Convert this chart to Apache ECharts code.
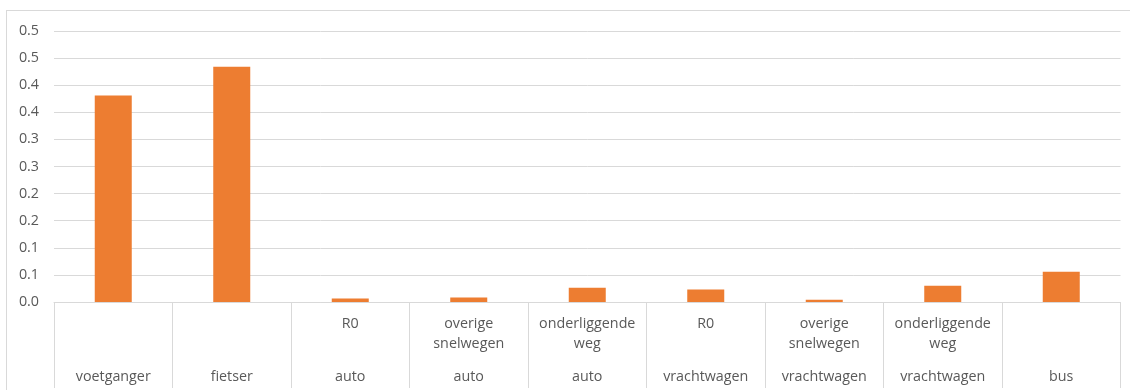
<!DOCTYPE html>
<html>
<head>
<meta charset="utf-8">
<script src="https://cdn.jsdelivr.net/npm/echarts@6/dist/echarts.min.js"></script>
<style>
html, body { margin: 0; padding: 0; background: #fff; overflow: hidden; }
#chart { position: absolute; left: 0; top: 0; width: 1130px; height: 390px; }
#frame { position: absolute; left: 6px; top: 10px; width: 1200px; height: 500px; border-left: 1px solid #d9d9d9; border-top: 1px solid #d9d9d9; pointer-events: none; }
</style>
</head>
<body>
<div id="frame"></div>
<div id="chart"></div>
<script>
// Category labels (two levels)
const roadTypes = ['', '', 'R0', 'overige\nsnelwegen', 'onderliggende\nweg', 'R0', 'overige\nsnelwegen', 'onderliggende\nweg', ''];
const modes = ['voetganger', 'fietser', 'auto', 'auto', 'auto', 'vrachtwagen', 'vrachtwagen', 'vrachtwagen', 'bus'];
// Series values
const values = [0.381, 0.434, 0.0066, 0.0085, 0.0264, 0.0232, 0.004, 0.030, 0.056];
// Y tick labels (as shown, rounded to one decimal)
const yTickLabels = ['0.0', '0.1', '0.1', '0.2', '0.2', '0.3', '0.3', '0.4', '0.4', '0.5', '0.5'];

const chart = echarts.init(document.getElementById('chart'), null, { renderer: 'canvas' });
const font = '"Open Sans", Lato, sans-serif';
chart.setOption({
  animation: false,
  grid: { left: 54, right: 9.5, top: 31, bottom: 88 },
  xAxis: [
    {
      type: 'category',
      data: roadTypes,
      position: 'bottom',
      axisLine: { show: true, lineStyle: { color: '#d9d9d9', width: 1 } },
      axisTick: { show: true, interval: 0, length: 86, lineStyle: { color: '#d9d9d9', width: 1 } },
      axisLabel: { interval: 0, margin: 12, color: '#595959', fontFamily: font, fontSize: 14.3, lineHeight: 20, verticalAlign: 'top' },
      splitLine: { show: false }
    },
    {
      type: 'category',
      data: modes,
      position: 'bottom',
      axisLine: { show: false },
      axisTick: { show: false },
      axisLabel: { interval: 0, margin: 65, color: '#595959', fontFamily: font, fontSize: 14.3, lineHeight: 20, verticalAlign: 'top' },
      splitLine: { show: false }
    }
  ],
  yAxis: {
    type: 'value',
    min: 0,
    max: 0.5,
    interval: 0.05,
    axisLine: { show: false },
    axisTick: { show: false },
    axisLabel: {
      margin: 15,
      color: '#595959',
      fontFamily: font,
      fontSize: 14.3,
      formatter: function (v) { return yTickLabels[Math.round(v / 0.05)]; }
    },
    splitLine: { lineStyle: { color: '#d9d9d9', width: 1 } }
  },
  series: [{
    type: 'bar',
    xAxisIndex: 0,
    data: values,
    barWidth: 37,
    itemStyle: { color: '#ED7D31' }
  }]
});
</script>
</body>
</html>
